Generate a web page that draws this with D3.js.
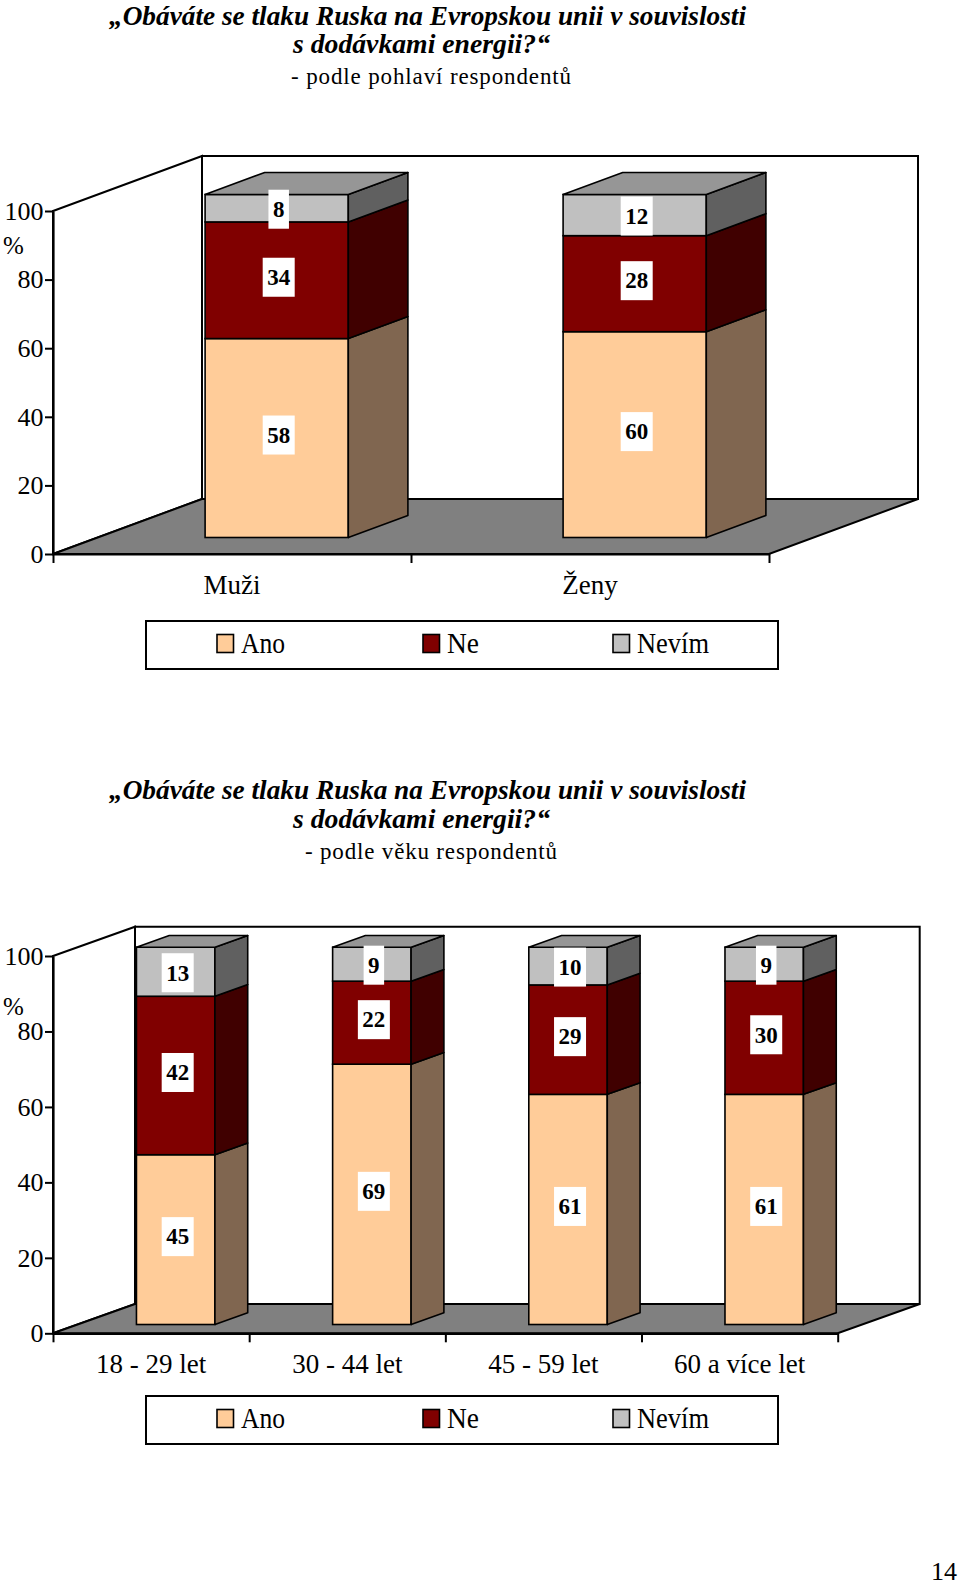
<!DOCTYPE html>
<html><head><meta charset="utf-8">
<script src="https://cdn.jsdelivr.net/npm/d3@7"></script>
<style>body{margin:0;background:#fff} svg{display:block}</style>
</head><body>
<svg id="c" width="960" height="1586"></svg>
<script>
// ---------- DATA ----------
const seriesNames = ["Ano", "Ne", "Nevím"];
const genderCategories = ["Muži", "Ženy"];
const genderAno = [58, 60];
const genderNe = [34, 28];
const genderNevim = [8, 12];
const ageCategories = ["18 - 29 let", "30 - 44 let", "45 - 59 let", "60 a více let"];
const ageAno = [45, 69, 61, 61];
const ageNe = [42, 22, 29, 30];
const ageNevim = [13, 9, 10, 9];
const yTicks = [0, 20, 40, 60, 80, 100];
const titleLine1 = "„Obáváte se tlaku Ruska na Evropskou unii v souvislosti";
const titleLine2 = "s dodávkami energii?“";
const subtitleGender = "- podle pohlaví respondentů";
const subtitleAge = "- podle věku respondentů";
const axisUnit = "%";
const pageNumber = "14";

// ---------- STYLE ----------
const SERIF = "'Liberation Serif','Times New Roman',Times,serif";
const colors = {
  "Ano":   {front: "#FFCC99", side: "#806650", top: "#FFE0C0"},
  "Ne":    {front: "#800000", side: "#400000", top: "#A03030"},
  "Nevím": {front: "#C0C0C0", side: "#606060", top: "#969696"}
};

const svg = d3.select("#c");

function drawTitle(cfg) {
  const g = svg.append("g");
  g.append("text").attr("x", 427.5).attr("y", cfg.titleY[0]).attr("text-anchor", "middle")
    .attr("font-family", SERIF).attr("font-weight", "bold").attr("font-style", "italic")
    .attr("font-size", 28).attr("textLength", 637).attr("lengthAdjust", "spacingAndGlyphs")
    .text(titleLine1);
  g.append("text").attr("x", 421.5).attr("y", cfg.titleY[1]).attr("text-anchor", "middle")
    .attr("font-family", SERIF).attr("font-weight", "bold").attr("font-style", "italic")
    .attr("font-size", 28).attr("textLength", 257).attr("lengthAdjust", "spacingAndGlyphs")
    .text(titleLine2);
  g.append("text").attr("x", 431).attr("y", cfg.titleY[2]).attr("text-anchor", "middle")
    .attr("font-family", SERIF).attr("font-size", 23)
    .attr("textLength", cfg.subW).attr("lengthAdjust", "spacing")
    .text(cfg.subtitle);
}

function drawChart(cfg, categories, ano, ne, nevim) {
  const {x0, x1, y0, y100, dx, dy} = cfg;
  const y = d3.scaleLinear().domain([0, 100]).range([y0, y100]);
  const xb = d3.scaleBand().domain(categories).range([x0, x1]).paddingInner(0.6).paddingOuter(0.3);
  const xt = d3.scaleLinear().domain([0, categories.length]).range([x0, x1]);
  const g = svg.append("g");

  // walls & floor
  const pts = a => a.map(p => p.join(",")).join(" ");
  g.append("polygon").attr("points", pts([[x0, y0], [x0, y100], [x0 + dx, y100 + dy], [x0 + dx, y0 + dy]]))
    .attr("fill", "#fff").attr("stroke", "#000").attr("stroke-width", 2);
  g.append("polygon").attr("points", pts([[x0 + dx, y100 + dy], [x1 + dx, y100 + dy], [x1 + dx, y0 + dy], [x0 + dx, y0 + dy]]))
    .attr("fill", "#fff").attr("stroke", "#000").attr("stroke-width", 2);
  g.append("polygon").attr("points", pts([[x0, y0], [x0 + dx, y0 + dy], [x1 + dx, y0 + dy], [x1, y0]]))
    .attr("fill", "#808080").attr("stroke", "#000").attr("stroke-width", 2);

  // y axis
  const ya = g.append("g").attr("transform", `translate(${x0},0)`)
    .call(d3.axisLeft(y).tickValues(yTicks).tickSize(8).tickPadding(1.5).tickSizeOuter(0));
  ya.select(".domain").attr("stroke-width", 2.2);
  ya.selectAll(".tick line").attr("stroke-width", 2);
  ya.selectAll(".tick text").attr("font-family", SERIF).attr("font-size", 26).attr("fill", "#000");
  g.append("text").attr("x", 3).attr("y", cfg.pctY).attr("dy", "0.32em")
    .attr("font-family", SERIF).attr("font-size", 25).text(axisUnit);

  // x axis: boundary ticks + centered labels
  const xa = g.append("g").attr("transform", `translate(0,${y0})`)
    .call(d3.axisBottom(xt).ticks(categories.length).tickFormat("").tickSize(9).tickSizeOuter(0));
  xa.select(".domain").attr("stroke-width", 2.2);
  xa.selectAll(".tick line").attr("stroke-width", 2);
  const xl = g.append("g").attr("transform", `translate(0,${y0})`)
    .call(d3.axisBottom(d3.scaleBand().domain(categories).range([x0, x1])).tickSize(0).tickPadding(cfg.xLabelPad));
  xl.select(".domain").remove();
  xl.selectAll(".tick text").attr("font-family", SERIF).attr("font-size", 27).attr("fill", "#000");

  // bars
  const table = categories.map((c, i) => ({cat: c, "Ano": ano[i], "Ne": ne[i], "Nevím": nevim[i]}));
  const stack = d3.stack().keys(seriesNames)(table);
  const fx = 0.3 * dx, fy = 0.3 * dy, bx = 0.4 * dx, by = 0.4 * dy;
  const bw = xb.bandwidth();
  const yf = v => y(v) + fy;
  const bars = g.append("g");
  const labels = [];
  categories.forEach((c, i) => {
    const L = xb(c) + fx, R = L + bw;
    stack.forEach((layer, li) => {
      const [v0, v1] = layer[i];
      const col = colors[layer.key];
      bars.append("rect").attr("x", L).attr("y", yf(v1)).attr("width", bw).attr("height", yf(v0) - yf(v1))
        .attr("fill", col.front).attr("stroke", "#000").attr("stroke-width", 1.6);
      bars.append("polygon").attr("points", pts([[R, yf(v0)], [R + bx, yf(v0) + by], [R + bx, yf(v1) + by], [R, yf(v1)]]))
        .attr("fill", col.side).attr("stroke", "#000").attr("stroke-width", 1.6).attr("stroke-linejoin", "round");
      if (li === stack.length - 1) {
        bars.append("polygon").attr("points", pts([[L, yf(v1)], [L + bx, yf(v1) + by], [R + bx, yf(v1) + by], [R, yf(v1)]]))
          .attr("fill", col.top).attr("stroke", "#000").attr("stroke-width", 1.6).attr("stroke-linejoin", "round");
      }
      const isTop = li === stack.length - 1;
      labels.push({x: (L + R) / 2 + 2, y: (yf(v0) + yf(v1)) / 2 + (isTop ? 1 : -3), t: String(v1 - v0)});
    });
  });
  const lg = g.append("g");
  labels.forEach(d => {
    const r = lg.append("rect").attr("fill", "#fff");
    const t = lg.append("text").attr("x", d.x).attr("y", d.y + 7.8).attr("text-anchor", "middle")
      .attr("font-family", SERIF).attr("font-weight", "bold").attr("font-size", 23).attr("fill", "#000").text(d.t);
    const w = t.node().getComputedTextLength() + 9;
    r.attr("x", d.x - w / 2).attr("y", d.y - 19.5).attr("width", w).attr("height", 39);
  });

  // legend
  const leg = g.append("g");
  leg.append("rect").attr("x", 146).attr("y", cfg.legendY).attr("width", 632).attr("height", 48)
    .attr("fill", "#fff").attr("stroke", "#000").attr("stroke-width", 2);
  const legX = [217, 423, 613];
  const legW = [44, 32, 72];
  seriesNames.forEach((s, i) => {
    leg.append("rect").attr("x", legX[i]).attr("y", cfg.legendY + 13.5).attr("width", 16.5).attr("height", 18)
      .attr("fill", colors[s].front).attr("stroke", "#000").attr("stroke-width", 1.6);
    leg.append("text").attr("x", legX[i] + 24).attr("y", cfg.legendY + 31.5)
      .attr("font-family", SERIF).attr("font-size", 29)
      .attr("textLength", legW[i]).attr("lengthAdjust", "spacingAndGlyphs").text(s);
  });
}

const chart1 = {x0: 53, x1: 769, y0: 554, y100: 211, dx: 149, dy: -55, pctY: 246, legendY: 621,
  titleY: [25, 53, 84], subtitle: subtitleGender, subW: 280, xLabelPad: 21};
const chart2 = {x0: 53, x1: 837.7, y0: 1333.3, y100: 956, dx: 82, dy: -29.3, pctY: 1007, legendY: 1396,
  titleY: [799, 828, 859], subtitle: subtitleAge, subW: 252, xLabelPad: 21};

drawTitle(chart1);
drawChart(chart1, genderCategories, genderAno, genderNe, genderNevim);
drawTitle(chart2);
drawChart(chart2, ageCategories, ageAno, ageNe, ageNevim);

svg.append("text").attr("x", 957).attr("y", 1580).attr("text-anchor", "end")
  .attr("font-family", SERIF).attr("font-size", 26).text(pageNumber);
</script>
</body></html>
